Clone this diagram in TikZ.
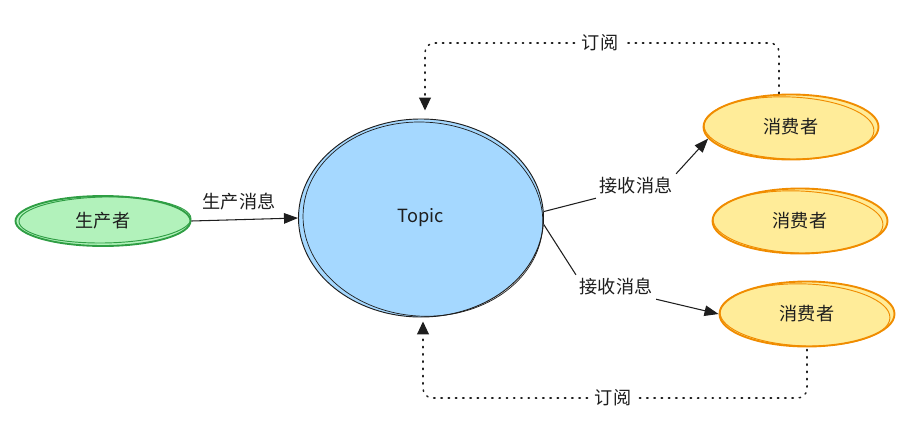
\documentclass[tikz,border=0pt]{standalone}
\usepackage{fontspec}
\setmainfont{Noto Sans CJK SC}
\usetikzlibrary{arrows.meta, calc, positioning, shapes.geometric}
\definecolor{tinte}{HTML}{1E1E1E}
\definecolor{gruen}{HTML}{2F9E44}
\definecolor{gruenhell}{HTML}{B2F2BB}
\definecolor{blauhell}{HTML}{A5D8FF}
\definecolor{orange}{HTML}{F08C00}
\definecolor{gelb}{HTML}{FFEC99}

\begin{document}
\begin{tikzpicture}[x=0.03cm, y=-0.03cm, font=\fontsize{15.5}{18}\selectfont,
    erzeuger/.style={ellipse, draw=gruen, fill=gruenhell, line width=1.6pt,
      minimum width=5.25cm, minimum height=1.5cm, text=tinte},
    verbraucher/.style={ellipse, draw=orange, fill=gelb, line width=1.6pt,
      minimum width=5.25cm, minimum height=1.95cm, text=tinte},
    thema/.style={ellipse, draw=tinte, fill=blauhell, line width=0.8pt,
      minimum width=7.35cm, minimum height=5.94cm, text=tinte},
    beschr/.style={text=tinte, inner sep=3pt},
    fluss/.style={draw=tinte, line width=0.9pt,
      -{Triangle[length=12pt, width=9pt]}},
    abo/.style={draw=tinte, line width=1.3pt, dash pattern=on 1.2pt off 5pt,
      line cap=round, rounded corners=8pt,
      -{Triangle[length=11pt, width=10pt]}}]
      \useasboundingbox (0,0) rectangle (916,443);

      % Knoten
      \node[erzeuger] (prod) at (103,221) {生产者};
      \node[thema] (topic) at (421,218) {Topic};
      \node[verbraucher] (c1) at (791,127) {消费者};
      \node[verbraucher] (c2) at (800,221) {消费者};
      \node[verbraucher] (c3) at (807,314) {消费者};

      % zweiter Strich (skizziert)
      \draw[gruen, line width=0.8pt, rotate around={1:(prod.center)}]
        ($(prod.center)+(2,-1)$) ellipse [x radius=86, y radius=23];
      \draw[tinte, line width=0.6pt, rotate around={-4:(topic.center)}]
        ($(topic.center)+(2,1)$) ellipse [x radius=120, y radius=97];
      \foreach \c in {c1, c2, c3}
        \draw[orange, line width=0.8pt, rotate around={-2:(\c.center)}]
          ($(\c.center)+(-2,1)$) ellipse [x radius=85, y radius=31];

      % Beschriftungen
      \node[beschr] (send) at (239,202) {生产消息};
      \node[beschr] (rcv1) at (636,186) {接收消息};
      \node[beschr] (rcv2) at (616,287) {接收消息};
      \node[beschr, inner sep=6pt] (sub1) at (600,43) {订阅};
      \node[beschr, inner sep=6pt] (sub2) at (613,398) {订阅};

      % Pfeile
      \draw[fluss] (prod.east) -- (topic.west);
      \draw[draw=tinte, line width=0.9pt] (topic.3) -- (rcv1.south west);
      \draw[fluss] (rcv1.north east) -- (c1.188);
      \draw[draw=tinte, line width=0.9pt] (topic.-3) -- (rcv2.north west);
      \draw[fluss] (rcv2.south east) -- (c3.west);

      % Abonnement
      \draw[abo, -] ($(c1.north)+(-12,0)$) |- (sub1.east);
      \draw[abo] (sub1.west) -| ($(topic.north)+(4,-8)$);
      \draw[abo, -] ($(c3.south)+(0,2)$) |- (sub2.east);
      \draw[abo] (sub2.west) -| ($(topic.south)+(2,4)$);
\end{tikzpicture}
\end{document}
